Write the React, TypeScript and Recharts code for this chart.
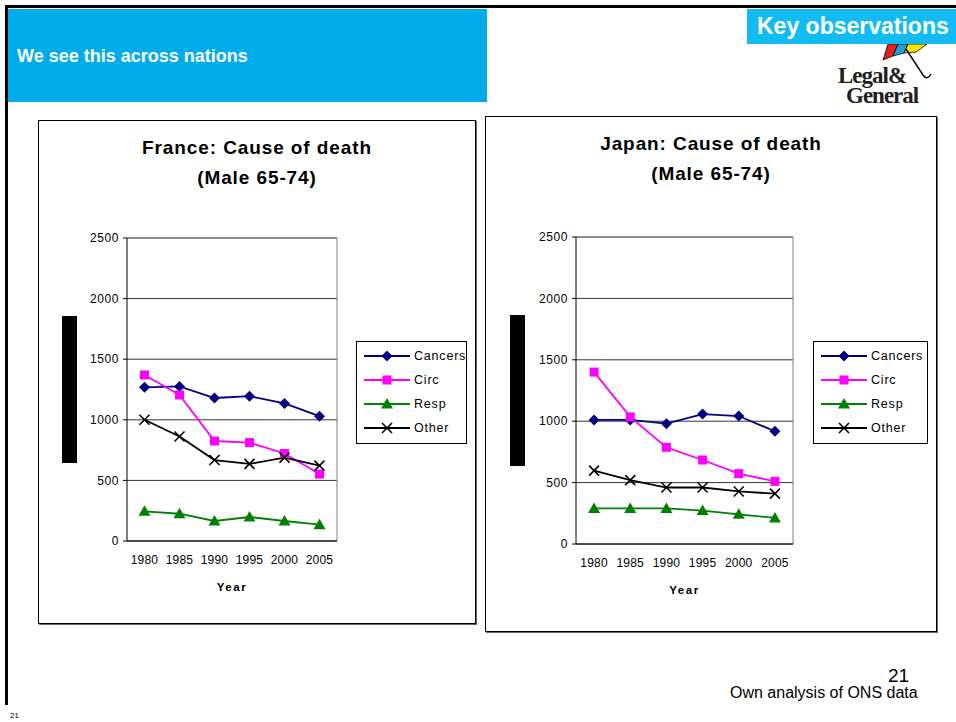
import React from 'react';
import { LineChart, Line, XAxis, YAxis, CartesianGrid, Legend, ReferenceLine } from 'recharts';

// categories and axis ticks
const years = [1980, 1985, 1990, 1995, 2000, 2005];
const bandEdges = [1977.5, 1982.5, 1987.5, 1992.5, 1997.5, 2002.5, 2007.5];
const yTicks = [0, 500, 1000, 1500, 2000, 2500];

const seriesNames = ['Cancers', 'Circ', 'Resp', 'Other'];
const seriesColors = ['#000080', '#FF00FF', '#008000', '#000000'];

// France, male 65-74
const franceCancers = [1268, 1275, 1180, 1195, 1135, 1030];
const franceCirc = [1370, 1205, 825, 812, 722, 552];
const franceResp = [245, 225, 165, 198, 165, 135];
const franceOther = [1000, 862, 668, 636, 688, 622];

// Japan, male 65-74
const japanCancers = [1010, 1010, 980, 1058, 1042, 918];
const japanCirc = [1400, 1035, 787, 684, 573, 510];
const japanResp = [290, 290, 290, 272, 242, 212];
const japanOther = [598, 520, 460, 460, 428, 410];

const buildRows = (cancers: number[], circ: number[], resp: number[], other: number[]) =>
  years.map((year, i) => ({ year, Cancers: cancers[i], Circ: circ[i], Resp: resp[i], Other: other[i] }));

const franceRows = buildRows(franceCancers, franceCirc, franceResp, franceOther);
const japanRows = buildRows(japanCancers, japanCirc, japanResp, japanOther);

const FONT = '"Liberation Sans", Arial, sans-serif';
const SERIF = '"Liberation Serif", "Times New Roman", serif';

function Marker({ name, cx, cy, color }: { name: string; cx: number; cy: number; color: string }) {
  if (name === 'Cancers') {
    return <polygon points={`${cx},${cy - 5.5} ${cx + 5.5},${cy} ${cx},${cy + 5.5} ${cx - 5.5},${cy}`} fill={color} />;
  }
  if (name === 'Circ') {
    return <rect x={cx - 4.5} y={cy - 4.5} width={9} height={9} fill={color} />;
  }
  if (name === 'Resp') {
    return <polygon points={`${cx},${cy - 6} ${cx + 6},${cy + 4.5} ${cx - 6},${cy + 4.5}`} fill={color} />;
  }
  return (
    <g stroke={color} strokeWidth={1.6}>
      <line x1={cx - 5} y1={cy - 5} x2={cx + 5} y2={cy + 5} />
      <line x1={cx - 5} y1={cy + 5} x2={cx + 5} y2={cy - 5} />
    </g>
  );
}

const LegendBox = ({ payload }: any) => {
  const items = [...(payload || [])].sort((a: any, b: any) => seriesNames.indexOf(a.value) - seriesNames.indexOf(b.value));
  return (
    <div style={{ border: '1px solid #000', background: '#fff', padding: '2px 6px 3px 6px', fontFamily: FONT }}>
      {items.map((p: any) => (
        <div key={p.value} style={{ display: 'flex', alignItems: 'center', height: 24 }}>
          <svg width={48} height={14} style={{ flex: 'none' }}>
            <line x1={1} y1={7} x2={47} y2={7} stroke={p.color} strokeWidth={1.8} />
            <Marker name={p.value} cx={24} cy={7} color={p.color} />
          </svg>
          <span style={{ fontSize: 12.5, letterSpacing: 0.8, marginLeft: 3, color: '#000' }}>{p.value}</span>
        </div>
      ))}
    </div>
  );
};

type ChartProps = {
  title: string;
  rows: any[];
  box: { left: number; top: number; width: number; height: number };
  margin: { top: number; right: number; bottom: number; left: number };
  legendAt: { left: number; top: number; width: number };
};

function DeathChart({ title, rows, box, margin, legendAt }: ChartProps) {
  return (
    <div
      style={{
        position: 'absolute',
        left: box.left,
        top: box.top,
        width: box.width,
        height: box.height,
        border: '1px solid #000',
        boxShadow: '1px 1px 0 #666',
        boxSizing: 'border-box',
        background: '#fff',
      }}
    >
      <div style={{ position: 'absolute', left: 0, right: 0, top: 12, textAlign: 'center', fontFamily: FONT, fontWeight: 'bold', fontSize: 19, lineHeight: '30px', letterSpacing: 0.9 }}>
        {title}
        <br />
        (Male 65-74)
      </div>
      <LineChart width={box.width - 2} height={box.height - 2} data={rows} margin={margin} style={{ fontFamily: FONT, position: 'absolute', left: 0, top: 0 }}>
        <CartesianGrid xAxisId="years" vertical={false} stroke="#333" />
        <XAxis
          xAxisId="edges"
          type="number"
          dataKey="year"
          domain={[1977.5, 2007.5]}
          ticks={bandEdges}
          tick={false}
          tickSize={5}
          height={1}
          stroke="#000"
          allowDataOverflow
        />
        <XAxis
          xAxisId="years"
          type="number"
          dataKey="year"
          domain={[1977.5, 2007.5]}
          ticks={years}
          axisLine={false}
          tickLine={false}
          tickSize={6}
          tickMargin={7}
          height={1}
          interval={0}
          tick={{ fill: '#000', fontSize: 12, letterSpacing: 0.2 }}
          label={{ value: 'Year', position: 'bottom', offset: 40, fill: '#000', fontSize: 11.5, fontWeight: 'bold', letterSpacing: 1.6 }}
          allowDataOverflow
        />
        <YAxis
          domain={[0, 2500]}
          ticks={yTicks}
          interval={0}
          width={40}
          tickSize={4}
          tickMargin={4}
          stroke="#000"
          tick={{ fill: '#000', fontSize: 12, letterSpacing: 0.6 }}
        />
        <ReferenceLine xAxisId="years" y={2500} stroke="#808080" />
        <ReferenceLine xAxisId="years" x={2007.5} stroke="#808080" />
        {seriesNames.map((name, i) => (
          <Line
            key={name}
            xAxisId="years"
            type="linear"
            dataKey={name}
            name={name}
            stroke={seriesColors[i]}
            strokeWidth={1.8}
            isAnimationActive={false}
            dot={(p: any) => <Marker key={`${name}-${p.index}`} name={name} cx={p.cx} cy={p.cy} color={seriesColors[i]} />}
            activeDot={false}
          />
        ))}
        <Legend
          layout="vertical"
          align="center"
          verticalAlign="middle"
          itemSorter={null as any}
          content={<LegendBox />}
          wrapperStyle={{ left: legendAt.left, top: legendAt.top, width: legendAt.width }}
        />
      </LineChart>
    </div>
  );
}

export default function App() {
  return (
    <div style={{ position: 'absolute', left: 0, top: 0, width: 956, height: 722, background: '#fff', overflow: 'hidden', fontFamily: FONT }}>
      {/* slide frame */}
      <div style={{ position: 'absolute', left: 5, top: 5, width: 951, height: 3, background: '#000' }} />
      <div style={{ position: 'absolute', left: 5, top: 5, width: 3, height: 700, background: '#000' }} />

      {/* header band */}
      <div style={{ position: 'absolute', left: 8, top: 9, width: 479, height: 93, background: '#00ADEA' }} />
      <div style={{ position: 'absolute', left: 17, top: 45, color: '#fff', fontWeight: 'bold', fontSize: 18, lineHeight: '22px', whiteSpace: 'nowrap' }}>
        We see this across nations
      </div>

      {/* logo */}
      <svg style={{ position: 'absolute', left: 830, top: 35 }} width={126} height={75}>
        <polygon points="53,25 58,9 68,9 63,21" fill="#E2231A" stroke="#000" strokeWidth={0.8} />
        <polygon points="63,21 68,9 78,9 74,18" fill="#1FA0DC" stroke="#000" strokeWidth={0.8} />
        <polygon points="74,18 78,9 97,9 86,17" fill="#FFE500" stroke="#000" strokeWidth={0.8} />
        <path d="M76,14 L93,40 Q97,46 101,39" fill="none" stroke="#000" strokeWidth={1.4} />
        <text fontFamily={SERIF} fontSize={23} fontWeight="bold" letterSpacing={-1} fill="#231F20">
          <tspan x={8} y={48}>Legal&amp;</tspan>
          <tspan x={16} y={68}>General</tspan>
        </text>
      </svg>
      <div style={{ position: 'absolute', left: 747, top: 9, width: 209, height: 35, background: '#12BCF2' }} />
      <div style={{ position: 'absolute', left: 757, top: 13, color: '#fff', fontWeight: 'bold', fontSize: 23, lineHeight: '27px', whiteSpace: 'nowrap' }}>
        Key observations
      </div>

      <DeathChart
        title="France: Cause of death"
        rows={franceRows}
        box={{ left: 38, top: 120, width: 438, height: 504 }}
        margin={{ top: 117, right: 138, bottom: 80, left: 48 }}
        legendAt={{ left: 317, top: 220, width: 111 }}
      />
      <DeathChart
        title="Japan: Cause of death"
        rows={japanRows}
        box={{ left: 485, top: 116, width: 452, height: 516 }}
        margin={{ top: 120, right: 143, bottom: 85, left: 50 }}
        legendAt={{ left: 327, top: 224, width: 115 }}
      />

      {/* redacted axis titles */}
      <div style={{ position: 'absolute', left: 62, top: 316, width: 15, height: 147, background: '#000' }} />
      <div style={{ position: 'absolute', left: 510, top: 315, width: 15, height: 151, background: '#000' }} />

      {/* footer */}
      <div style={{ position: 'absolute', left: 888, top: 666, fontSize: 19, lineHeight: '20px', color: '#000' }}>21</div>
      <div style={{ position: 'absolute', left: 730, top: 684, fontSize: 16, lineHeight: '18px', color: '#000', whiteSpace: 'nowrap' }}>
        Own analysis of ONS data
      </div>
      <div style={{ position: 'absolute', left: 10, top: 711, fontSize: 8, lineHeight: '10px', color: '#000' }}>21</div>
    </div>
  );
}
